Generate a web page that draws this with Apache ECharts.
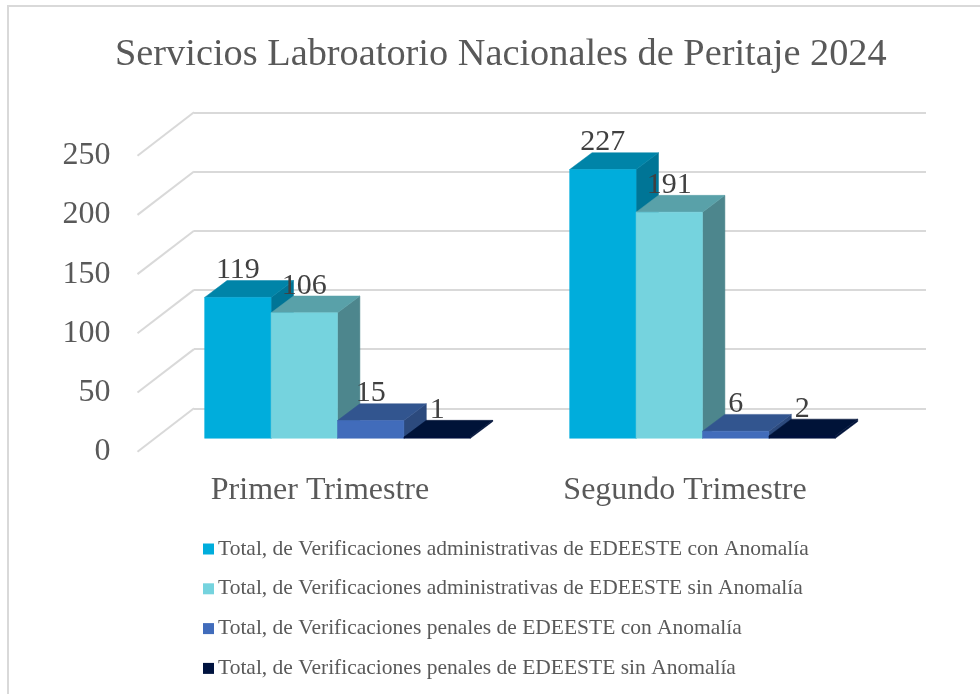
<!DOCTYPE html>
<html>
<head>
<meta charset="utf-8">
<title>Servicios Laboratorio Nacionales de Peritaje 2024</title>
<script src="https://cdn.jsdelivr.net/npm/echarts@6/dist/echarts.min.js"></script>
<style>
  html, body { margin: 0; padding: 0; background: #fff; }
  #chart { width: 980px; height: 694px; }
</style>
</head>
<body>
<div id="chart"></div>
<script>
const TITLE = "Servicios Labroatorio Nacionales de Peritaje 2024";
const CATEGORIES = ["Primer Trimestre", "Segundo Trimestre"];
const TICKS = [0, 50, 100, 150, 200, 250];
const CON_ADMIN = [119, 227];
const SIN_ADMIN = [106, 191];
const CON_PENAL = [15, 6];
const SIN_PENAL = [1, 2];
const NAMES = [
  "Total, de Verificaciones administrativas de EDEESTE con Anomalía",
  "Total, de Verificaciones administrativas de EDEESTE sin Anomalía",
  "Total, de Verificaciones penales de EDEESTE con Anomalía",
  "Total, de Verificaciones penales de EDEESTE sin Anomalía",
];

const FONT = '"Liberation Serif", serif';
const GRID_LINE = "#d9d9d9";
// front, top, side shades per series
const SHADES = [
  ["#00addc", "#0084a8", "#007596"],
  ["#75d3de", "#59a1a9", "#4d868d"],
  ["#416cbb", "#32558f", "#2c4a7d"],
  ["#00133f", "#001338", "#00133a"],
];
const DEPTH_X = 22.4, DEPTH_Y = 16.8;  // bar depth
const WALL_X = 56.5, WALL_Y = 43.4;    // side wall depth
const BAR_SHARE = 0.182;               // one bar, as share of the band

// 3D column: front face + top + right side, positioned from the axis scales
function barRenderer(idx) {
  return function (params, api) {
    const base = api.coord([api.value(0), 0]);
    const top = api.coord([api.value(0), api.value(1)]);
    const w = api.size([1, 0])[0] * BAR_SHARE;
    const x0 = base[0] + (idx - 2) * w, x1 = x0 + w;
    const y0 = base[1], y1 = top[1];
    const face = (pts, color) => ({
      type: "polygon",
      shape: { points: pts },
      style: { fill: color, stroke: color, lineWidth: 0.5 },
    });
    return {
      type: "group",
      children: [
        face([[x1, y0], [x1 + DEPTH_X, y0 - DEPTH_Y], [x1 + DEPTH_X, y1 - DEPTH_Y], [x1, y1]], SHADES[idx][2]),
        face([[x0, y1], [x1, y1], [x1 + DEPTH_X, y1 - DEPTH_Y], [x0 + DEPTH_X, y1 - DEPTH_Y]], SHADES[idx][1]),
        face([[x0, y0], [x1, y0], [x1, y1], [x0, y1]], SHADES[idx][0]),
        {
          type: "text",
          z2: 100,
          style: {
            x: (x0 + x1) / 2, y: y1 - 27, text: String(api.value(1)),
            align: "center", verticalAlign: "middle",
            fill: "#404040", font: "30px " + FONT,
          },
        },
      ],
    };
  };
}

function barSeries(idx, values) {
  return {
    name: NAMES[idx],
    type: "custom",
    xAxisIndex: 2, yAxisIndex: 2,
    itemStyle: { color: SHADES[idx][0] },
    z: 5 + idx,
    silent: true,
    encode: { x: 0, y: 1 },
    data: values.map((v, i) => [i, v]),
    renderItem: barRenderer(idx),
  };
}

const hiddenCat = (gridIndex) => ({
  type: "category", gridIndex, data: CATEGORIES, show: false,
});
const hiddenVal = (gridIndex) => ({
  type: "value", gridIndex, min: 0, max: 250, interval: 50, show: false,
});

const chart = echarts.init(document.getElementById("chart"), null, { renderer: "canvas" });
chart.setOption({
  animation: false,
  backgroundColor: "#fff",
  title: {
    text: TITLE, left: 110, top: 31,
    textStyle: { fontFamily: FONT, fontSize: 38.35, fontWeight: "normal", color: "#595959" },
  },
  graphic: [{
    // only the top and left edges of the frame are inside the picture
    type: "rect", silent: true, z: -1,
    shape: { x: 8, y: 6, width: 1000, height: 720 },
    style: { fill: "none", stroke: "#d9d9d9", lineWidth: 2 },
  }],
  legend: {
    orient: "vertical", left: 203, top: 538, padding: 0,
    icon: "rect", itemWidth: 11, itemHeight: 11, itemGap: 17.8,
    selectedMode: false,
    data: NAMES,
    textStyle: { fontFamily: FONT, fontSize: 21.5, color: "#595959", lineHeight: 20, padding: [0, 0, 0, -1] },
  },
  grid: [
    { left: 194, top: 112.3, width: 732, height: 296 },     // back wall
    { left: 137.5, top: 155.7, width: 730, height: 296 },   // front edge, carries the labels
    { left: 155, top: 142.3, width: 730, height: 296 },     // plane of the columns
  ],
  xAxis: [
    hiddenCat(0),
    {
      type: "category", gridIndex: 1, data: CATEGORIES,
      axisLine: { show: false }, axisTick: { show: false },
      axisLabel: { fontFamily: FONT, fontSize: 32, color: "#595959", margin: 23 },
    },
    hiddenCat(2),
  ],
  yAxis: [
    {
      type: "value", gridIndex: 0, min: 0, max: 250, interval: 50,
      axisLine: { show: false }, axisTick: { show: false }, axisLabel: { show: false },
      splitLine: { lineStyle: { color: GRID_LINE, width: 2 } },
    },
    {
      type: "value", gridIndex: 1, min: 0, max: 250, interval: 50,
      axisLine: { show: false }, axisTick: { show: false }, splitLine: { show: false },
      axisLabel: { fontFamily: FONT, fontSize: 32, color: "#595959", margin: 27 },
    },
    hiddenVal(2),
  ],
  series: [
    {
      // side wall lines, from the front edge to the back wall
      type: "custom",
      xAxisIndex: 1, yAxisIndex: 1,
      silent: true, z: 1,
      encode: { y: 0 },
      data: TICKS.map((t) => [t]),
      renderItem(params, api) {
        const p = api.coord([0, api.value(0)]);
        const x = params.coordSys.x;
        return {
          type: "line",
          shape: { x1: x, y1: p[1], x2: x + WALL_X, y2: p[1] - WALL_Y },
          style: { stroke: GRID_LINE, lineWidth: 2 },
        };
      },
    },
    barSeries(0, CON_ADMIN),
    barSeries(1, SIN_ADMIN),
    barSeries(2, CON_PENAL),
    barSeries(3, SIN_PENAL),
  ],
});
</script>
</body>
</html>
